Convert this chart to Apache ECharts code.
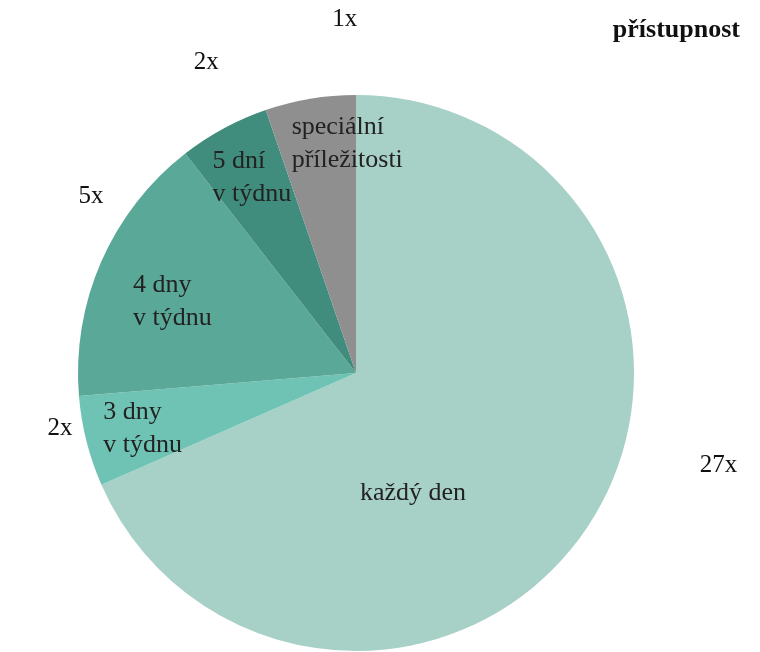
<!DOCTYPE html>
<html><head><meta charset="utf-8">
<script src="https://cdn.jsdelivr.net/npm/echarts@6/dist/echarts.min.js"></script>
<style>html,body{margin:0;padding:0;background:#fff}#c{width:760px;height:652px}</style>
</head><body><div id="c"></div>
<script>
// ---- data ----
const categories = ['každý den', '3 dny\nv týdnu', '4 dny\nv týdnu', '5 dní\nv týdnu', 'speciální\npříležitosti'];
const sliceValues = [26, 2, 6, 2, 2];          // slice sizes as drawn
const countLabels = ['27x', '2x', '5x', '2x', '1x'];
const chartTitle = 'přístupnost';

// ---- style / layout ----
const sliceColors = ['#a7d0c7', '#6fc3b4', '#5aa898', '#408c7d', '#8f8f8f'];
const innerOffsets = [[-115, 43], [-115, 21], [-93, -14], [-76, -70], [-41, -89]];
const outerOffsets = [[111, -60], [-14, -13], [2, -65], [-5, -66], [47, -79]];
const FONT = 'Liberation Serif';

const chart = echarts.init(document.getElementById('c'), null, {renderer: 'canvas'});
chart.setOption({
  animation: false,
  backgroundColor: '#fff',
  title: {
    text: chartTitle, right: 15, top: 12,
    textStyle: {fontFamily: FONT, fontWeight: 'bold', fontSize: 26, color: '#111'}
  },
  series: [
    {
      type: 'pie', center: [356, 373], radius: 278, startAngle: 90, clockwise: true,
      silent: true, avoidLabelOverlap: false,
      data: categories.map((n, i) => ({name: n, value: sliceValues[i]})),
      itemStyle: {color: 'rgba(0,0,0,0)', borderWidth: 0},
      label: {
        show: true, position: 'outside', distanceToLabelLine: 0,
        formatter: p => countLabels[p.dataIndex],
        fontFamily: FONT, fontSize: 25, color: '#111'
      },
      labelLine: {show: false, length: 0, length2: 0},
      labelLayout: p => ({dx: outerOffsets[p.dataIndex][0], dy: outerOffsets[p.dataIndex][1]}),
      emphasis: {disabled: true}
    },
    {
      type: 'pie', center: [356, 373], radius: 278, startAngle: 90, clockwise: true,
      silent: true, avoidLabelOverlap: false,
      data: categories.map((n, i) => ({name: n, value: sliceValues[i], itemStyle: {color: sliceColors[i]}})),
      itemStyle: {borderWidth: 0},
      label: {
        show: true, position: 'inside', formatter: '{b}',
        fontFamily: FONT, fontSize: 26, lineHeight: 33, color: '#222'
      },
      labelLine: {show: false},
      labelLayout: p => ({dx: innerOffsets[p.dataIndex][0], dy: innerOffsets[p.dataIndex][1], align: 'left'}),
      emphasis: {disabled: true}
    }
  ]
});
</script>
</body></html>
